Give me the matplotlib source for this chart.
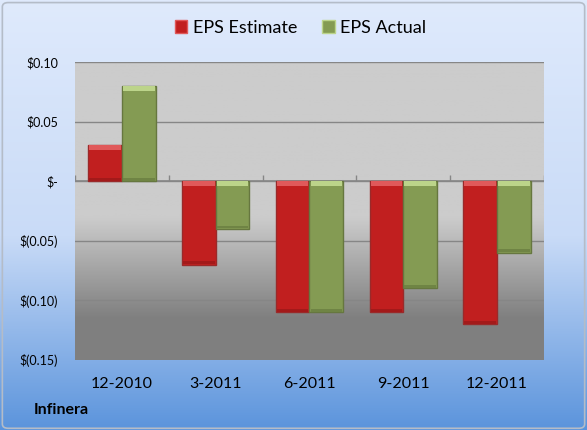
import numpy as np
import matplotlib
matplotlib.use("Agg")
import matplotlib.pyplot as plt
from matplotlib.colors import LinearSegmentedColormap
from matplotlib.patches import Patch, FancyBboxPatch

plt.rcParams['font.family'] = ['Lato', 'DejaVu Sans']

# data
quarters = ["12-2010", "3-2011", "6-2011", "9-2011", "12-2011"]
eps_estimate = [0.03, -0.07, -0.11, -0.11, -0.12]
eps_actual = [0.08, -0.04, -0.11, -0.09, -0.06]
y_ticks = [0.10, 0.05, 0.0, -0.05, -0.10, -0.15]
y_labels = ["$0.10", "$0.05", "$-", "$(0.05)", "$(0.10)", "$(0.15)"]
company = "Infinera"

red, red_hi, red_lo, red_edge = "#c11f1f", "#e0595a", "#a31a1a", "#9a2a2a"
green, green_hi, green_lo, green_edge = "#849b53", "#bcd48a", "#6f8444", "#66773f"

fig = plt.figure(figsize=(5.87, 4.30), dpi=100)

# figure background: pale blue fading to a stronger blue at the bottom
bg = fig.add_axes([0, 0, 1, 1], zorder=-10)
bg_cmap = LinearSegmentedColormap.from_list(
    "bg", [(0.0, "#5b94dc"), (0.45, "#c9dbf7"), (1.0, "#dfeafc")])
bg.imshow(np.linspace(0, 1, 256).reshape(-1, 1), cmap=bg_cmap, aspect="auto",
          extent=[0, 1, 0, 1], origin="lower")
bg.add_patch(FancyBboxPatch((0.004, 0.004), 0.992, 0.99,
                            boxstyle="round,pad=0,rounding_size=0.01",
                            transform=bg.transAxes, fill=False,
                            edgecolor="#b4bcc8", linewidth=1.2))
bg.set_xlim(0, 1)
bg.set_ylim(0, 1)
bg.axis("off")

ax = fig.add_axes([0.1278, 0.1628, 0.7989, 0.693])
n = len(quarters)
x = np.arange(n)
ymin, ymax = -0.15, 0.10
ax.set_xlim(-0.5, n - 0.5)
ax.set_ylim(ymin, ymax)

# plot area: light gray on top, darker gray below zero
yy = np.linspace(ymin, ymax, 300)
shade = np.interp(yy, [ymin, -0.115, -0.03, ymax], [0.50, 0.50, 0.80, 0.80])
gray = np.dstack([shade, shade, shade]).reshape(-1, 1, 3)
ax.imshow(gray, aspect="auto", extent=[-0.5, n - 0.5, ymin, ymax],
          origin="lower", zorder=0)

for t in y_ticks[:-1]:
    ax.axhline(t, color="#868686", linewidth=1.0, zorder=1)

w = 0.36
bevel = (ymax - ymin) * 0.016
for vals, off, col, hi, lo, ed in [
        (eps_estimate, -w / 2, red, red_hi, red_lo, red_edge),
        (eps_actual, w / 2, green, green_hi, green_lo, green_edge)]:
    ax.bar(x + off, vals, width=w, color=col, edgecolor=ed, linewidth=1.0, zorder=3)
    tops = [max(v, 0) for v in vals]
    bottoms = [min(v, 0) for v in vals]
    ax.bar(x + off, [bevel] * n, bottom=[t - bevel for t in tops], width=w * 0.94,
           color=hi, linewidth=0, zorder=4)
    ax.bar(x + off, [bevel * 0.6] * n, bottom=[b + bevel * 0.1 for b in bottoms],
           width=w * 0.94, color=lo, linewidth=0, zorder=4)

# zero line with category boundary ticks
ax.axhline(0, color="#868686", linewidth=1.2, zorder=2)
ax.vlines(np.arange(n + 1) - 0.5, 0, (ymax - ymin) * 0.02, color="#868686",
          linewidth=1.0, zorder=2)

ax.set_yticks(y_ticks)
ax.set_yticklabels(y_labels, fontsize=9)
ax.set_xticks(x)
ax.set_xticklabels(quarters, fontsize=11.5)
ax.tick_params(axis="both", length=0)
ax.tick_params(axis="y", pad=12)
ax.tick_params(axis="x", pad=12)
for s in ax.spines.values():
    s.set_visible(False)

handles = [Patch(facecolor=red, edgecolor=red_hi, label="EPS Estimate"),
           Patch(facecolor=green, edgecolor=green_hi, label="EPS Actual")]
fig.legend(handles=handles, loc="center", bbox_to_anchor=(0.512, 0.935), ncol=2,
           frameon=False, fontsize=13, handlelength=0.7, handleheight=0.7,
           handletextpad=0.3, columnspacing=1.4)

fig.text(0.058, 0.047, company, fontsize=11.5, fontweight="bold", va="center")

fig.savefig("out.png", dpi=100)
